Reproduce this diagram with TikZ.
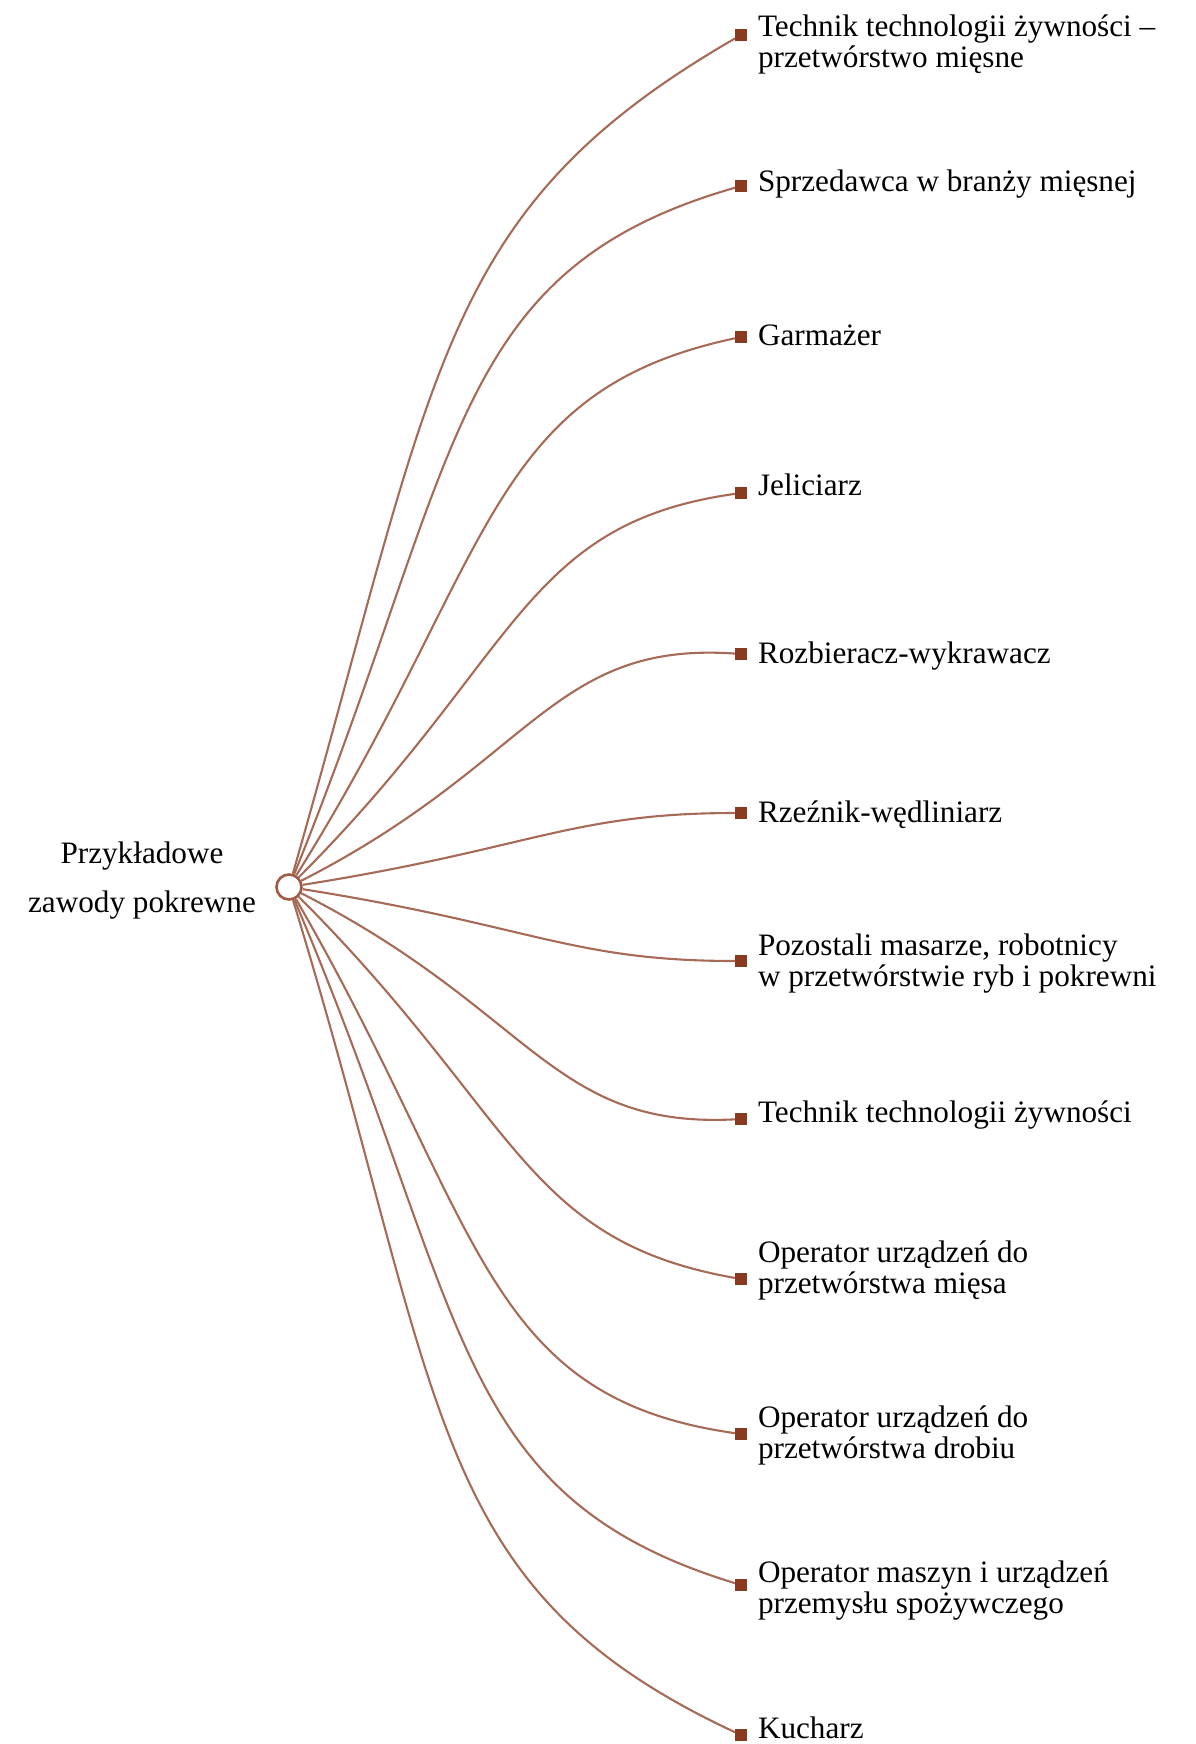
\documentclass[tikz,border=0pt]{standalone}
\usepackage{fontspec}
\setmainfont{Liberation Serif}
\definecolor{linec}{HTML}{A66A56}
\definecolor{sqc}{HTML}{8A3A1E}
\definecolor{hubc}{HTML}{A35A44}
\newcommand{\lblfont}{\fontsize{15.6pt}{15.5pt}\selectfont}
\begin{document}
\begin{tikzpicture}[x=0.5pt,y=-0.5pt,
  conn/.style={draw=linec, line width=1.05pt},
  endsq/.style={rectangle, fill=sqc, minimum size=6pt, inner sep=0pt, outer sep=0pt},
  lbl/.style={anchor=base west, inner sep=0pt, outer sep=0pt, font=\lblfont, text=black},
]
\useasboundingbox (0,0) rectangle (1195,1744);
\node[anchor=base, inner sep=0pt, font=\lblfont, align=center] (root) at (142,863)
  {\begin{tabular}[t]{@{}c@{}}Przykładowe\\[9pt] zawody pokrewne\end{tabular}};
\node[circle, draw=hubc, fill=white, line width=1.3pt, minimum size=12.5pt, inner sep=0pt] (hub) at (289,887) {};

\node[endsq] (s1) at (741,35) {};
\node[endsq] (s2) at (741,186) {};
\node[endsq] (s3) at (741,337) {};
\node[endsq] (s4) at (741,493) {};
\node[endsq] (s5) at (741,654) {};
\node[endsq] (s6) at (741,813) {};
\node[endsq] (s7) at (741,961) {};
\node[endsq] (s8) at (741,1119) {};
\node[endsq] (s9) at (741,1279) {};
\node[endsq] (s10) at (741,1434) {};
\node[endsq] (s11) at (741,1585) {};
\node[endsq] (s12) at (741,1735) {};

\node[lbl] (t1) at (758,37) {\begin{tabular}[t]{@{}l@{}}Technik technologii żywności –\\ przetwórstwo mięsne\end{tabular}};
\node[lbl] (t2) at (758,192) {Sprzedawca w branży mięsnej};
\node[lbl] (t3) at (758,345) {Garmażer};
\node[lbl] (t4) at (758,495) {Jeliciarz};
\node[lbl] (t5) at (758,663) {Rozbieracz-wykrawacz};
\node[lbl] (t6) at (758,822) {Rzeźnik-wędliniarz};
\node[lbl] (t7) at (758,955) {\begin{tabular}[t]{@{}l@{}}Pozostali masarze, robotnicy\\ w przetwórstwie ryb i pokrewni\end{tabular}};
\node[lbl] (t8) at (758,1122) {Technik technologii żywności};
\node[lbl] (t9) at (758,1262) {\begin{tabular}[t]{@{}l@{}}Operator urządzeń do\\ przetwórstwa mięsa\end{tabular}};
\node[lbl] (t10) at (758,1427) {\begin{tabular}[t]{@{}l@{}}Operator urządzeń do\\ przetwórstwa drobiu\end{tabular}};
\node[lbl] (t11) at (758,1582) {\begin{tabular}[t]{@{}l@{}}Operator maszyn i urządzeń\\ przemysłu spożywczego\end{tabular}};
\node[lbl] (t12) at (758,1738) {Kucharz};

\draw[conn] (hub) .. controls +(-74:540) and +(150:350) .. (s1);
\draw[conn] (hub) .. controls +(-68:465) and +(164:305) .. (s2);
\draw[conn] (hub) .. controls +(-58:390) and +(168:262) .. (s3);
\draw[conn] (hub) .. controls +(-45:326) and +(172:222) .. (s4);
\draw[conn] (hub) .. controls +(-27:274) and +(184:190) .. (s5);
\draw[conn] (hub) .. controls +(-9:246) and +(180:170) .. (s6);
\draw[conn] (hub) .. controls +(9:246) and +(180:170) .. (s7);
\draw[conn] (hub) .. controls +(27:274) and +(177:190) .. (s8);
\draw[conn] (hub) .. controls +(45:325) and +(190:222) .. (s9);
\draw[conn] (hub) .. controls +(60:390) and +(188:262) .. (s10);
\draw[conn] (hub) .. controls +(67:465) and +(197:305) .. (s11);
\draw[conn] (hub) .. controls +(73:540) and +(205:350) .. (s12);
\end{tikzpicture}
\end{document}
